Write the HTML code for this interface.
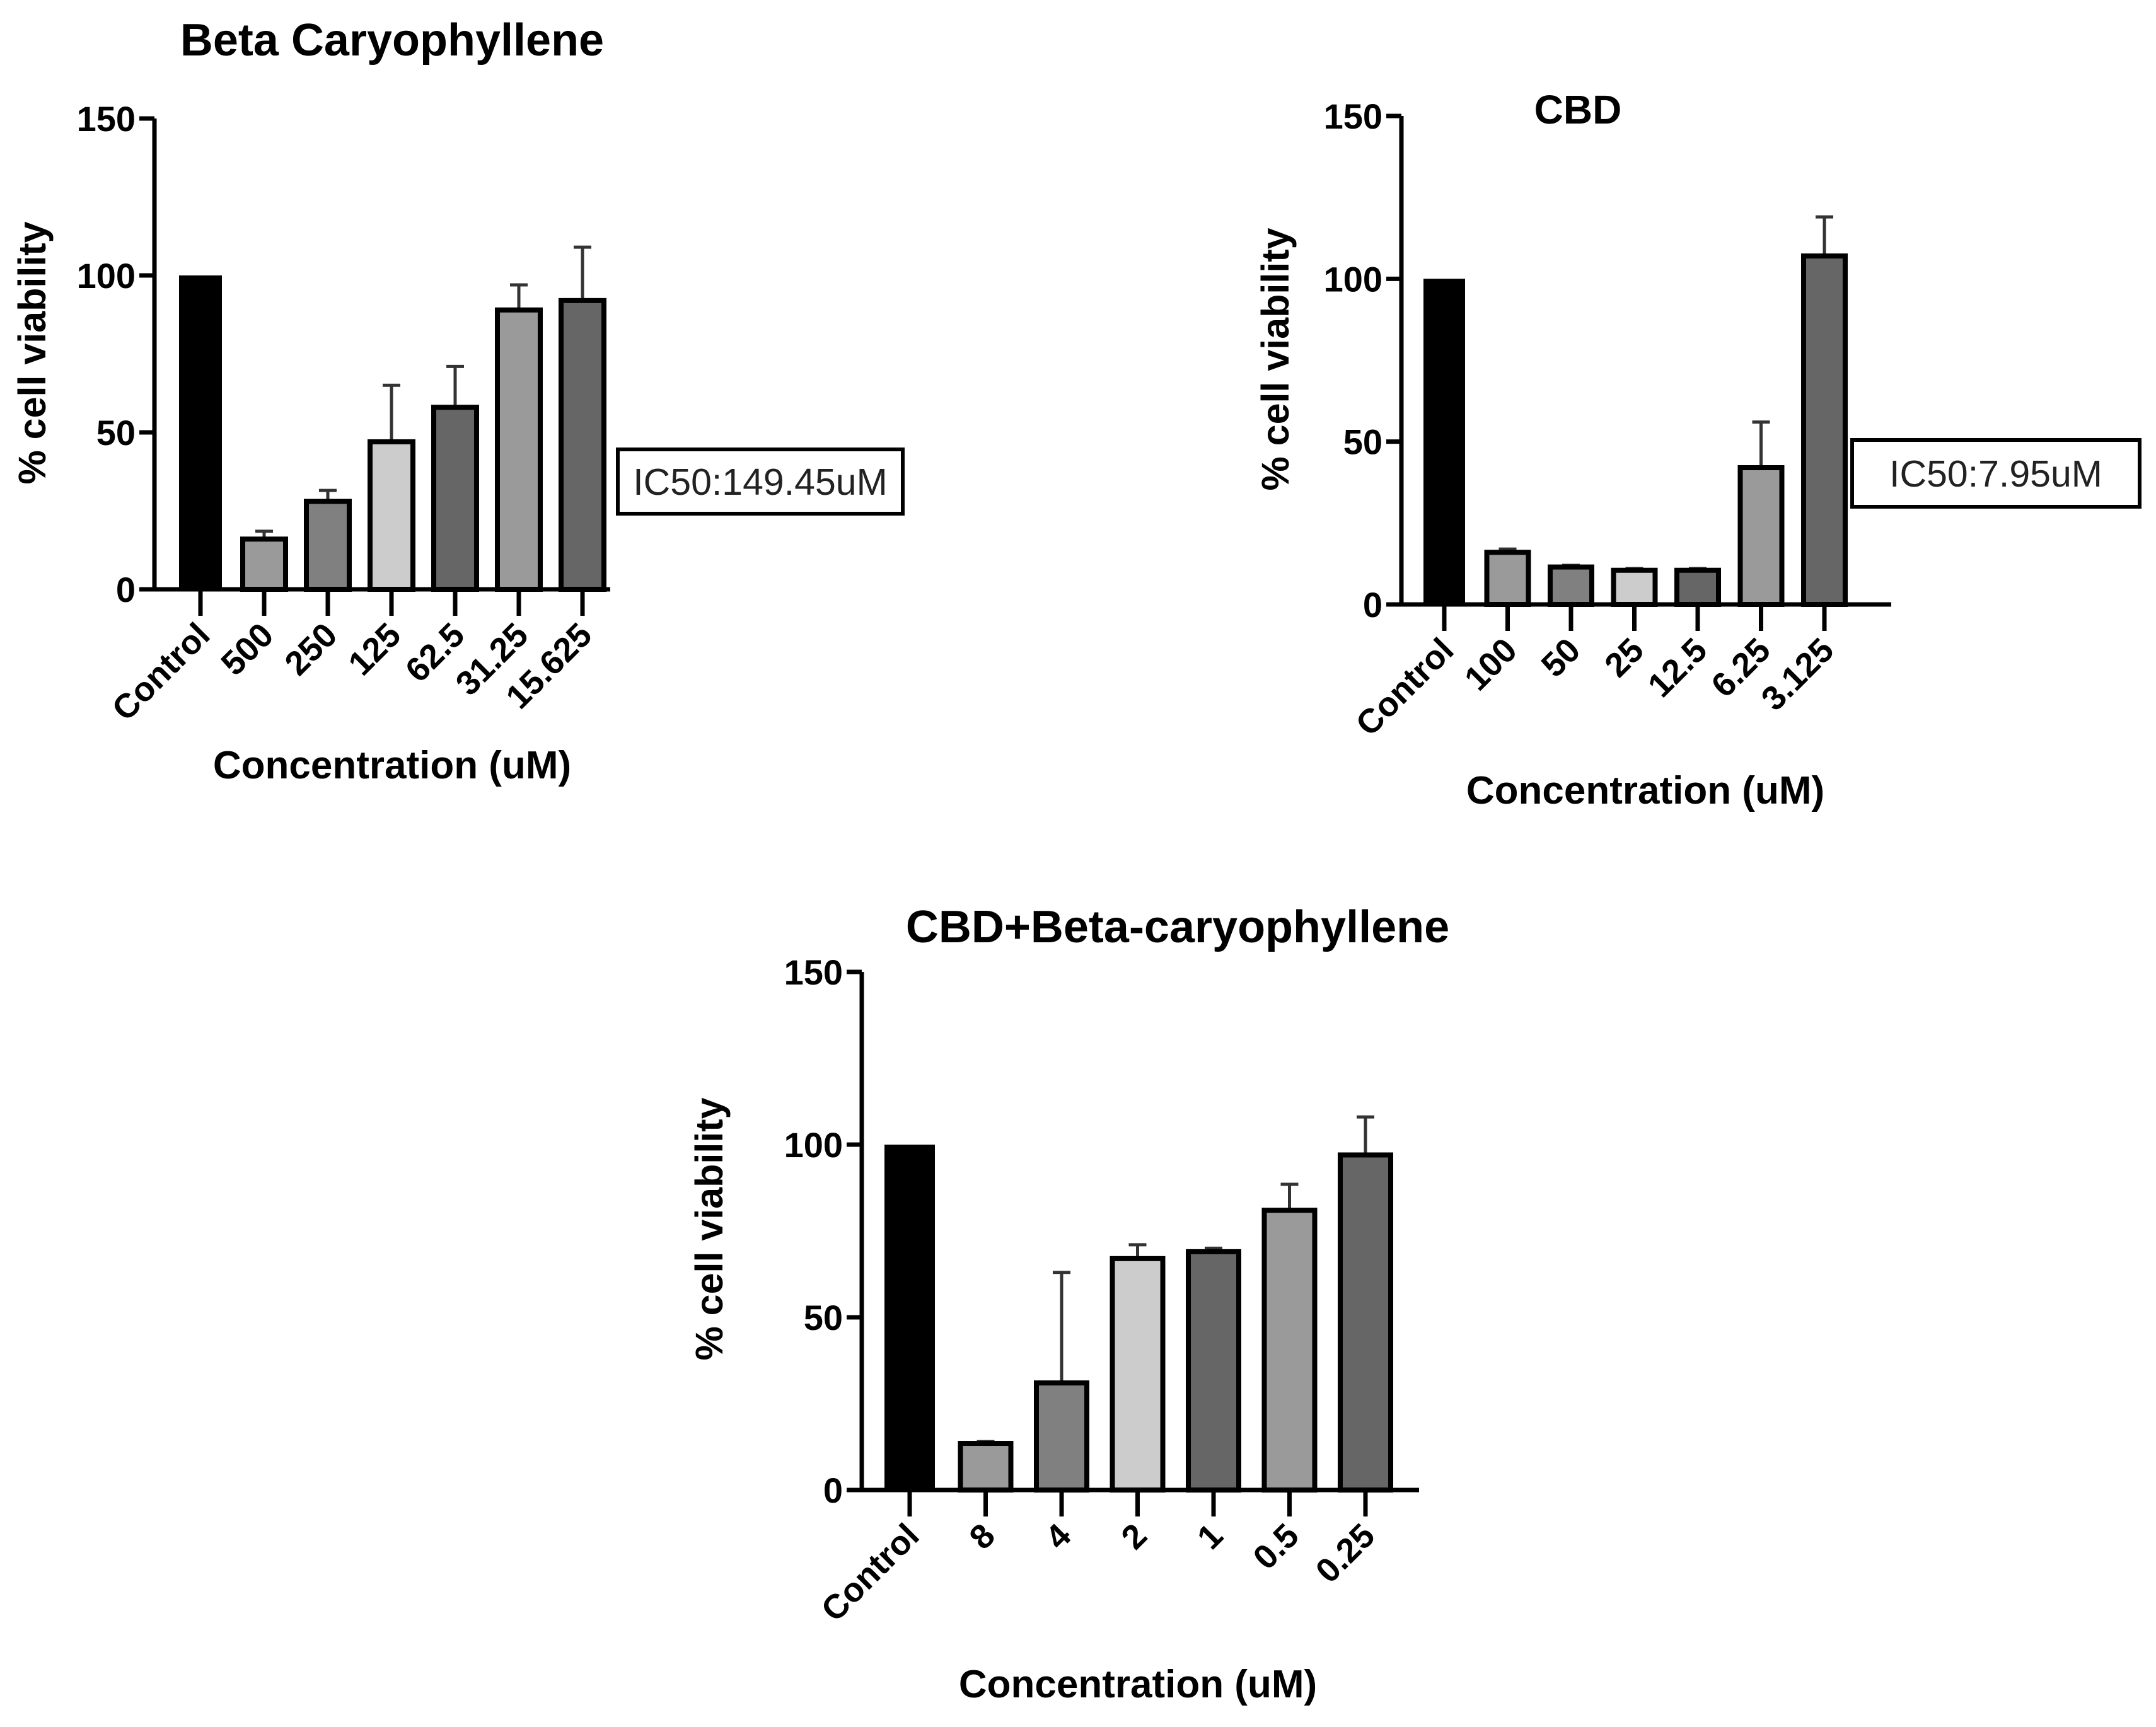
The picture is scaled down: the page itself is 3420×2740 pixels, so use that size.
<!DOCTYPE html>
<html><head><meta charset="utf-8"><style>
html,body{margin:0;padding:0;background:#fff;}
svg{display:block;}
text{font-family:"Liberation Sans",Arial,sans-serif;}
</style></head><body>
<svg id="fig" width="3420" height="2740" viewBox="0 0 3420 2740" xmlns="http://www.w3.org/2000/svg"></svg>
<script>
// Chart 1: Beta Caryophyllene
const bcCategories = ["Control","500","250","125","62.5","31.25","15.625"];
const bcValues = [100,16,28,47,58,89,92];
const bcErrors = [100,18.5,31.5,65,71,97,109];
// Chart 2: CBD
const cbdCategories = ["Control","100","50","25","12.5","6.25","3.125"];
const cbdValues = [100,16,11.5,10.5,10.5,42,107];
const cbdErrors = [100,17,12,11,11,56,119];
// Chart 3: CBD + Beta-caryophyllene
const comboCategories = ["Control","8","4","2","1","0.5","0.25"];
const comboValues = [100,13.5,31,67,69,81,97];
const comboErrors = [100,14,63,71,70,88.5,108];
const yTicks = [0,50,100,150];
const barFills = ["#000","#9a9a9a","#808080","#cccccc","#666","#9a9a9a","#666"];

const NS="http://www.w3.org/2000/svg";
const svg=document.getElementById('fig');
function mk(tag,attrs,parent){const e=document.createElementNS(NS,tag);for(const k in attrs)e.setAttribute(k,attrs[k]);(parent||svg).appendChild(e);return e;}

function chart(cfg,cats,vals,errs){
  const g=mk('g',{});
  
  
  const x0=cfg.x0,x1=cfg.x1,yTop=cfg.yTop,yBot=cfg.yBot;
  const yS=v=>yBot-(v/150)*(yBot-yTop);
  const xS=i=>cfg.c0+cfg.step*i;
  vals.forEach((v,i)=>{
    const cx=xS(i),w=cfg.bw;
    if(errs[i]>v+0.3){
      const l=mk('line',{x1:cx,x2:cx,y1:yS(v),y2:yS(errs[i]),stroke:'#333','stroke-width':5},g);
      
      
      const c=mk('line',{x1:cx-14,x2:cx+14,y1:yS(errs[i]),y2:yS(errs[i]),stroke:'#333','stroke-width':5},g);
      
      
    }
    const r=mk('rect',{x:cx-w/2,y:yS(v),width:w,height:yBot-yS(v),fill:barFills[i],stroke:'#000','stroke-width':i===0?0:8},g);
    
    
    const t=mk('line',{x1:cx,x2:cx,y1:yBot,y2:yBot+42,stroke:'#000','stroke-width':7},g);
    
    
    const lb=mk('text',{x:cx+18,y:yBot+76,'font-size':54,'font-weight':'bold','text-anchor':'end',transform:`rotate(-45 ${cx+18} ${yBot+76})`},g);
    lb.textContent=cats[i];
    
    
  });
  const ya=mk('line',{x1:x0,x2:x0,y1:yTop,y2:yBot+3,stroke:'#000','stroke-width':7},g);
  
  
  const xa=mk('line',{x1:x0-24,x2:x1,y1:yBot,y2:yBot,stroke:'#000','stroke-width':7},g);
  
  
  yTicks.forEach(v=>{
    const t=mk('line',{x1:x0-24,x2:x0,y1:yS(v),y2:yS(v),stroke:'#000','stroke-width':7},g);
    
    
    const lb=mk('text',{x:x0-30,y:yS(v)+20,'font-size':56,'font-weight':'bold','text-anchor':'end'},g);
    lb.textContent=v;
    
    
  });
  const tt=mk('text',{x:cfg.titleX,y:cfg.titleY,'font-size':cfg.titleSize,'font-weight':'bold','text-anchor':'middle'},g);
  tt.textContent=cfg.title;
  
  
  const xt=mk('text',{x:cfg.xtX,y:cfg.xtY,'font-size':62,'font-weight':'bold','text-anchor':'middle'},g);
  xt.textContent='Concentration (uM)';
  
  
  const yt=mk('text',{x:cfg.ytX,y:cfg.ytY,'font-size':61,'font-weight':'bold','text-anchor':'middle',transform:`rotate(-90 ${cfg.ytX} ${cfg.ytY})`},g);
  yt.textContent='% cell viability';
  
  
  if(cfg.ic){
    const b=mk('rect',{x:cfg.ic[0],y:cfg.ic[1],width:cfg.ic[2],height:cfg.ic[3],fill:'#fff',stroke:'#000','stroke-width':6},g);
    
    
    const it=mk('text',{x:cfg.ic[0]+cfg.ic[2]/2,y:cfg.ic[1]+cfg.ic[3]/2+21,'font-size':59,'text-anchor':'middle',fill:'#222'},g);
    it.textContent=cfg.icText;
    
    
  }
}

chart({name:'beta-caryophyllene-chart',x0:245,x1:968,yTop:188,yBot:935,c0:318,step:101,bw:68,title:'Beta Caryophyllene',titleSize:72,titleX:622,titleY:88,
  xtX:622,xtY:1235,ytX:72,ytY:560,ic:[980,713,452,102],icText:'IC50:149.45uM'},bcCategories,bcValues,bcErrors);
chart({name:'cbd-chart',x0:2223,x1:3000,yTop:184,yBot:959,c0:2291,step:100.5,bw:66,title:'CBD',titleSize:64,titleX:2503,titleY:196,
  xtX:2610,xtY:1275,ytX:2044,ytY:570,ic:[2938,698,456,106],icText:'IC50:7.95uM'},cbdCategories,cbdValues,cbdErrors);
chart({name:'combo-chart',x0:1367,x1:2251,yTop:1542,yBot:2364,c0:1443,step:120.5,bw:80,title:'CBD+Beta-caryophyllene',titleSize:72,titleX:1868,titleY:1495,
  xtX:1805,xtY:2693,ytX:1146,ytY:1950},comboCategories,comboValues,comboErrors);
</script>
</body></html>
